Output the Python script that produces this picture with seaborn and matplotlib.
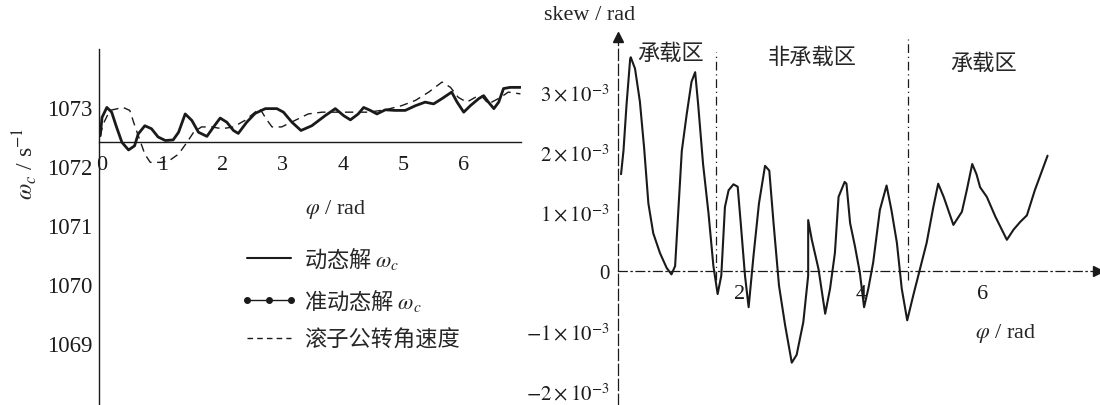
import matplotlib
matplotlib.use("Agg")
import matplotlib.pyplot as plt
from matplotlib.lines import Line2D
import seaborn as sns

# left panel: cage angular speed (s^-1) vs phi (rad)
phi_dyn = [-0.03, 0.00, 0.08, 0.16, 0.24, 0.33, 0.44, 0.54, 0.60, 0.71, 0.82, 0.93, 1.05,
           1.18, 1.27, 1.38, 1.49, 1.60, 1.74, 1.85, 1.96, 2.07, 2.18, 2.26, 2.40, 2.54,
           2.71, 2.90, 3.01, 3.15, 3.30, 3.48, 3.70, 3.87, 4.01, 4.12, 4.25, 4.34, 4.45,
           4.56, 4.70, 4.86, 5.03, 5.20, 5.36, 5.50, 5.64, 5.80, 5.89, 6.00, 6.11, 6.25,
           6.33, 6.41, 6.50, 6.58, 6.66, 6.77, 6.94]
omega_dyn = [1072.51, 1072.82, 1072.99, 1072.91, 1072.66, 1072.40, 1072.27, 1072.34, 1072.54,
             1072.68, 1072.63, 1072.49, 1072.43, 1072.44, 1072.57, 1072.88, 1072.77, 1072.57,
             1072.50, 1072.66, 1072.81, 1072.74, 1072.60, 1072.55, 1072.74, 1072.89, 1072.97,
             1072.97, 1072.91, 1072.74, 1072.60, 1072.68, 1072.85, 1072.97, 1072.85, 1072.78,
             1072.88, 1072.99, 1072.94, 1072.88, 1072.95, 1072.94, 1072.94, 1073.02, 1073.08,
             1073.05, 1073.14, 1073.25, 1073.08, 1072.91, 1073.02, 1073.14, 1073.19, 1073.08,
             1072.97, 1073.08, 1073.31, 1073.33, 1073.33]

phi_orb = [-0.03, 0.02, 0.13, 0.35, 0.46, 0.55, 0.63, 0.71, 0.80, 0.99, 1.13, 1.27, 1.41,
           1.52, 1.65, 1.82, 1.99, 2.18, 2.37, 2.54, 2.62, 2.72, 2.82, 2.98, 3.20, 3.42,
           3.65, 4.00, 4.42, 4.70, 4.97, 5.20, 5.42, 5.64, 5.78, 5.91, 6.05, 6.19, 6.30,
           6.41, 6.61, 6.74, 6.94]
omega_orb = [1072.51, 1072.71, 1072.94, 1072.99, 1072.94, 1072.66, 1072.43, 1072.20, 1072.06,
             1072.06, 1072.10, 1072.20, 1072.40, 1072.57, 1072.66, 1072.66, 1072.63, 1072.66,
             1072.77, 1072.91, 1072.97, 1072.80, 1072.66, 1072.66, 1072.77, 1072.88, 1072.91,
             1072.91, 1072.91, 1072.95, 1073.02, 1073.11, 1073.25, 1073.42, 1073.33, 1073.16,
             1073.08, 1073.16, 1073.18, 1073.05, 1073.16, 1073.25, 1073.22]

# right panel: skew (x 1e-3 rad) vs phi (rad)
phi_skew = [0.05, 0.09, 0.14, 0.20, 0.21, 0.28, 0.36, 0.43, 0.50, 0.58, 0.69, 0.80, 0.88,
            0.94, 0.99, 1.05, 1.13, 1.21, 1.27, 1.32, 1.40, 1.49, 1.57, 1.64, 1.70, 1.76,
            1.82, 1.90, 1.97, 2.02, 2.09, 2.15, 2.23, 2.32, 2.42, 2.49, 2.56, 2.65, 2.75,
            2.86, 2.94, 3.05, 3.13, 3.13, 3.19, 3.30, 3.41, 3.49, 3.57, 3.63, 3.73, 3.76,
            3.82, 3.90, 3.98, 4.05, 4.12, 4.20, 4.31, 4.42, 4.50, 4.59, 4.67, 4.76, 4.86,
            4.97, 5.08, 5.19, 5.27, 5.36, 5.52, 5.66, 5.74, 5.83, 5.90, 5.96, 6.07, 6.21,
            6.40, 6.51, 6.62, 6.73, 6.86, 7.07]
skew = [1.63, 2.02, 2.79, 3.56, 3.59, 3.40, 2.85, 2.07, 1.14, 0.64, 0.31, 0.06, -0.05,
        0.09, 0.97, 2.02, 2.63, 3.18, 3.34, 2.79, 1.80, 0.97, 0.09, -0.38, -0.07, 1.08,
        1.36, 1.46, 1.42, 0.81, -0.07, -0.60, 0.26, 1.14, 1.77, 1.69, 0.81, -0.24, -0.90,
        -1.53, -1.40, -0.85, -0.07, 0.86, 0.53, 0.04, -0.71, -0.29, 0.31, 1.25, 1.50, 1.47,
        0.81, 0.42, -0.02, -0.60, -0.29, 0.15, 1.03, 1.44, 1.03, 0.48, -0.29, -0.82, -0.40,
        0.04, 0.48, 1.08, 1.47, 1.25, 0.78, 1.00, 1.36, 1.80, 1.63, 1.41, 1.25, 0.92,
        0.53, 0.70, 0.83, 0.94, 1.36, 1.94]

zone_bounds = [1.61, 4.77]
zone_tops = [3.68, 3.9]
zone_labels = ["承载区", "非承载区", "承载区"]
zone_label_x = [0.87, 3.19, 6.02]
zone_label_y = [3.68, 3.6, 3.5]

left_yticks = [1069, 1070, 1071, 1072, 1073]
left_xticks = [0, 1, 2, 3, 4, 5, 6]
right_yticks = [-2, -1, 0, 1, 2, 3]
right_yticklabels = [r"$-2\times10^{-3}$", r"$-1\times10^{-3}$", "0",
                     r"$1\times10^{-3}$", r"$2\times10^{-3}$", r"$3\times10^{-3}$"]
right_xticks = [2, 4, 6]

legend_labels = [r"动态解 $\omega_c$", r"准动态解 $\omega_c$", "滚子公转角速度"]

sns.set_theme(style="white")
plt.rcParams["font.family"] = ["Liberation Serif", "Noto Sans CJK SC", "DejaVu Sans"]
plt.rcParams["mathtext.fontset"] = "stix"
cjk = ["Noto Sans CJK SC", "DejaVu Sans"]

fig = plt.figure(figsize=(11, 4.06), dpi=100)

# ---- left panel
ax1 = fig.add_axes([99 / 1100, 0, 422 / 1100, 356 / 406])
sns.lineplot(x=phi_dyn, y=omega_dyn, ax=ax1, color="k", lw=2.0, sort=False, estimator=None)
sns.lineplot(x=phi_orb, y=omega_orb, ax=ax1, color="k", lw=1.0, linestyle=(0, (6, 4)),
             sort=False, estimator=None)
ax1.set_xlim(-0.05, 6.95)
ax1.set_ylim(1067.95, 1073.98)
for s in ["top", "right"]:
    ax1.spines[s].set_visible(False)
ax1.spines["bottom"].set_position(("data", 1072.41))
for s in ["left", "bottom"]:
    ax1.spines[s].set_color("k")
    ax1.spines[s].set_linewidth(1.0)
ax1.set_xticks(left_xticks)
ax1.set_yticks(left_yticks)
ax1.tick_params(axis="x", direction="in", length=4, width=1, pad=9.5, labelsize=16, colors="k")
ax1.tick_params(axis="y", direction="in", length=5, width=1, pad=5, labelsize=16.5, colors="k")
ax1.set_xlabel("")
ax1.set_ylabel("")

handles = [Line2D([], [], color="k", lw=1.5),
           Line2D([], [], color="k", lw=1.0, marker="o", ms=4),
           Line2D([], [], color="k", lw=1.0, linestyle=(0, (4, 3)))]
ax1.legend(handles, legend_labels, loc="upper left", bbox_to_anchor=(220 / 1100, 1 - 226 / 406),
           bbox_transform=fig.transFigure, frameon=False, numpoints=3, handlelength=2.6,
           handletextpad=0.3, labelspacing=0.7, prop={"family": cjk, "size": 16})

fig.text(336 / 1100, 1 - 210 / 406, r"$\varphi$ / rad", ha="center", va="center", fontsize=16)
fig.text(25 / 1100, 1 - 164 / 406, r"$\omega_c$ / s$^{-1}$", ha="center", va="center",
         rotation=90, fontsize=17)

# ---- right panel
ax2 = fig.add_axes([618 / 1100, 0, 480 / 1100, 368 / 406])
sns.lineplot(x=phi_skew, y=skew, ax=ax2, color="k", lw=1.5, sort=False, estimator=None)
ax2.set_xlim(0, 7.9)
ax2.set_ylim(-2.24, 3.93)
for s in ["top", "right"]:
    ax2.spines[s].set_visible(False)
ax2.spines["bottom"].set_position(("data", 0))
ax2.spines["bottom"].set_linestyle((0, (7, 3, 1, 3)))
ax2.spines["left"].set_linestyle((0, (9, 3)))
for s in ["left", "bottom"]:
    ax2.spines[s].set_color("k")
    ax2.spines[s].set_linewidth(0.9)
ax2.plot(1, 0, ">", color="k", ms=7, transform=ax2.get_yaxis_transform(), clip_on=False)
ax2.plot(0, 1, "^", color="k", ms=7, transform=ax2.get_xaxis_transform(), clip_on=False)

for xb, top in zip(zone_bounds, zone_tops):
    ax2.vlines(xb, -0.15, top, colors="k", lw=0.9, linestyles=[(0, (7, 3, 1, 3))])
for x, y, t in zip(zone_label_x, zone_label_y, zone_labels):
    ax2.text(x, y, t, ha="center", va="center", fontsize=16, family=cjk)

ax2.set_xticks(right_xticks)
ax2.set_xticks([1, 3, 5, 7], minor=True)
ax2.set_yticks(right_yticks)
ax2.set_yticklabels(right_yticklabels)
ax2.tick_params(axis="x", which="both", direction="inout", length=6, width=1, pad=6,
                labelsize=16, colors="k")
ax2.tick_params(axis="y", direction="out", length=4, width=1, pad=2, labelsize=15, colors="k")
ax2.set_xlabel("")
ax2.set_ylabel("")

fig.text(590 / 1100, 1 - 16 / 406, "skew / rad", ha="center", va="center", fontsize=16)
fig.text(1006 / 1100, 1 - 334 / 406, r"$\varphi$ / rad", ha="center", va="center", fontsize=16)

fig.savefig("out.png", dpi=100)
